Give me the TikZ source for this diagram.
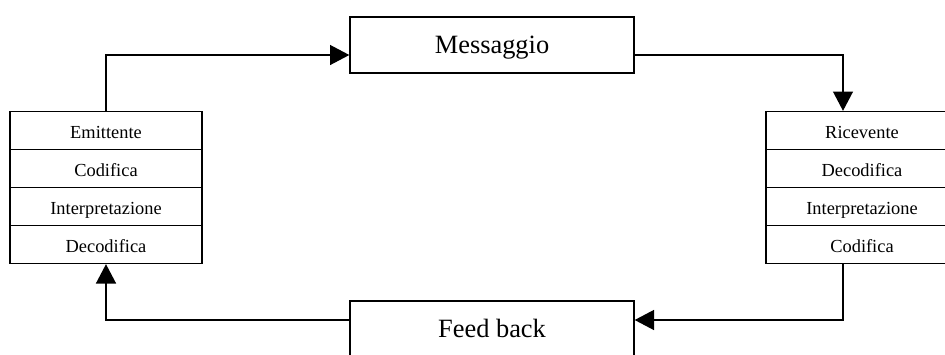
\documentclass[tikz,border=0pt]{standalone}
\usepackage{fontspec}
\setmainfont{Liberation Serif}
\usetikzlibrary{positioning,arrows.meta}

\begin{document}
\begin{tikzpicture}[x=0.75pt,y=-0.75pt,
    every node/.style={inner sep=0pt},
    row/.style={draw,line width=1pt,minimum width=144pt,minimum height=28.5pt,text height=13pt,text depth=1pt,font=\fontsize{13.8}{16}\selectfont},
    bigbox/.style={draw,line width=1pt,minimum width=213pt,minimum height=42pt,text height=13.5pt,text depth=1.5pt,font=\fontsize{19.8}{22}\selectfont},
    flow/.style={line width=1pt,-{Triangle[length=14.5pt,width=15pt]}}]
    \useasboundingbox (0,0) rectangle (945,354);

    % Boxes in the middle
    \node[bigbox] (msg) at (492,45) {Messaggio};
    \node[bigbox] (fb) at (492,329) {Feed back};

    % Left stack
    \foreach \t [count=\i] in {Emittente,Codifica,Interpretazione,Decodifica}
        \node[row] (e\i) at (106,92.5+38*\i) {\t};

    % Right stack
    \foreach \t [count=\i] in {Ricevente,Decodifica,Interpretazione,Codifica}
        \node[row] (r\i) at (862,92.5+38*\i) {\t};

    % Connectors
    \draw[flow] (e1.north) |- ([yshift=-7.5pt]msg.west);
    \draw[flow] ([yshift=-7.5pt]msg.east) -| ([xshift=-14.25pt]r1.north);
    \draw[flow] ([xshift=-14.25pt]r4.south) |- ([yshift=6.75pt]fb.east);
    \draw[flow] ([yshift=6.75pt]fb.west) -| (e4.south);
\end{tikzpicture}
\end{document}
